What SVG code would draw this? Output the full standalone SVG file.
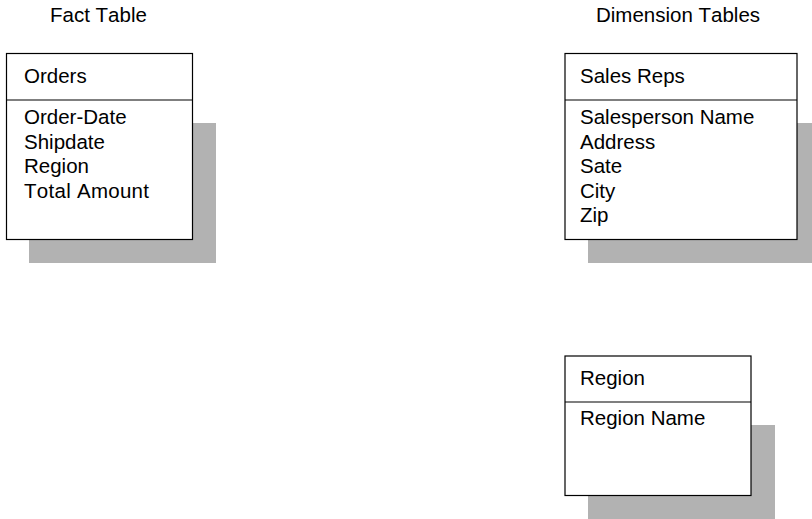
<svg xmlns="http://www.w3.org/2000/svg" width="812" height="519" viewBox="0 0 812 519">
<style>
  text { font-family: "Liberation Sans", Arial, sans-serif; font-size: 20.5px; fill: #000; font-kerning: none; }
  .shadow { fill: #b2b2b2; stroke: none; }
  .box { fill: #fff; stroke: #000; stroke-width: 1.2; }
  .div { stroke: #000; stroke-width: 1.2; }
</style>
<rect width="812" height="519" fill="#fff"/>
<text x="50" y="22">Fact Table</text>
<text x="596" y="22">Dimension Tables</text>
<g id="orders">
  <rect class="shadow" x="29" y="123" width="187" height="140"/>
  <rect class="box" x="6.5" y="53.5" width="186" height="186"/>
  <line class="div" x1="6.5" y1="100" x2="192.5" y2="100"/>
  <text x="24" y="83">Orders</text>
  <text x="24" y="124">Order-Date</text>
  <text x="24" y="148.5">Shipdate</text>
  <text x="24" y="173">Region</text>
  <text x="24" y="197.5" textLength="125" lengthAdjust="spacing">Total Amount</text>
</g>
<g id="salesreps">
  <rect class="shadow" x="588" y="123" width="232" height="140"/>
  <rect class="box" x="565" y="53.5" width="232" height="186"/>
  <line class="div" x1="565" y1="100" x2="797" y2="100"/>
  <text x="580" y="83">Sales Reps</text>
  <text x="580" y="124">Salesperson Name</text>
  <text x="580" y="148.5">Address</text>
  <text x="580" y="173">Sate</text>
  <text x="580" y="197.5">City</text>
  <text x="580" y="222">Zip</text>
</g>
<g id="region">
  <rect class="shadow" x="588" y="425" width="187" height="94"/>
  <rect class="box" x="565" y="356" width="186" height="139.5"/>
  <line class="div" x1="565" y1="402" x2="751" y2="402"/>
  <text x="580" y="385">Region</text>
  <text x="580" y="425">Region Name</text>
</g>
<g id="connectors"></g>
</svg>
